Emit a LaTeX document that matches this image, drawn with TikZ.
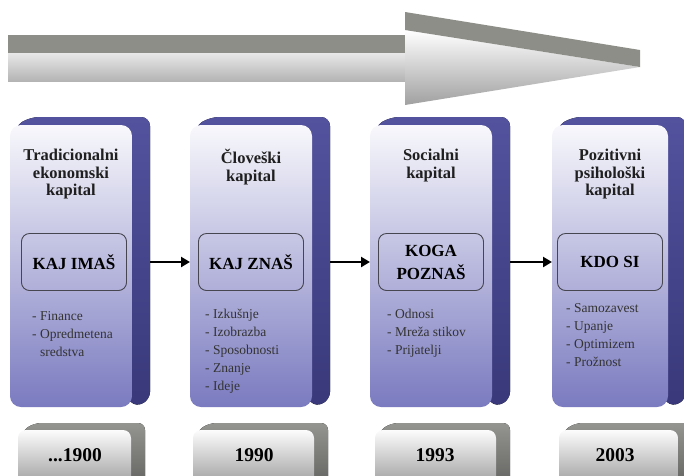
\documentclass[tikz,border=0pt]{standalone}
\usepackage{fontspec}
\setmainfont{Liberation Serif}
\newfontfamily\timesface{Liberation Serif}
\usetikzlibrary{arrows.meta,calc,backgrounds}

\definecolor{faceT}{RGB}{248,248,252}
\definecolor{faceM}{RGB}{196,196,228}
\definecolor{faceB}{RGB}{122,122,192}
\definecolor{slabT}{RGB}{82,82,158}
\definecolor{slabB}{RGB}{56,56,122}
\definecolor{keyline}{RGB}{70,70,80}
\definecolor{yearT}{RGB}{252,252,252}
\definecolor{yearM}{RGB}{222,222,222}
\definecolor{yearB}{RGB}{150,150,150}
\definecolor{yslabT}{RGB}{148,148,144}
\definecolor{yslabB}{RGB}{96,96,94}
\definecolor{band}{RGB}{142,142,136}
\definecolor{shaftT}{RGB}{232,232,232}
\definecolor{shaftB}{RGB}{180,180,180}
\definecolor{headB}{RGB}{160,160,160}

\tikzset{
  front/.style={rounded corners=11pt, top color=faceT, middle color=faceM,
    bottom color=faceB, draw=none, inner sep=0pt, outer sep=0pt,
    minimum height=282pt},
  slabfill/.style={rounded corners=9pt, top color=slabT, bottom color=slabB},
  yfront/.style={rounded corners=8pt, top color=yearT, middle color=yearM,
    bottom color=yearB, draw=none, inner sep=0pt, outer sep=0pt,
    minimum height=60pt},
  yslab/.style={rounded corners=7pt, top color=yslabT, bottom color=yslabB},
  title/.style={font=\timesface\fontsize{16.5}{17.5}\selectfont\bfseries,
    align=center, anchor=north, inner sep=0pt, text=black!88},
  keybox/.style={draw=keyline, line width=0.9pt, rounded corners=8pt,
    minimum width=105pt, minimum height=57pt, inner sep=0pt,
    font=\timesface\fontsize{17}{23}\selectfont\bfseries, align=center},
  items/.style={font=\timesface\fontsize{13.5}{18}\selectfont, align=left,
    anchor=north west, inner sep=0pt, text=black!80},
  flow/.style={line width=2.4pt, -{Triangle[length=9pt,width=10pt]}},
  yeartext/.style={font=\timesface\fontsize{19.5}{22}\selectfont\bfseries,
    inner sep=0pt},
}

\begin{document}
\begin{tikzpicture}[x=1pt,y=-1pt]
\useasboundingbox (0,0) rectangle (684,475);
\clip (0,0) rectangle (684,475);

% timeline arrow across the top
\shade[top color=shaftT, bottom color=shaftB] (8,53) rectangle (405,81);
\fill[band] (8,35) rectangle (405,53);
\shade[top color=white, bottom color=headB] (405,30) -- (640,67) -- (405,105) -- cycle;
\fill[band] (405,12) -- (640,50) -- (640,67) -- (405,30) -- cycle;

% capital columns: shaded front faces, with the dark slab behind each
\foreach \n/\cx/\w in {1/71/122, 2/251/122, 3/431/122, 4/610/116}{
  \node[front, minimum width=\w pt] (b\n) at (\cx,266) {};
}
\begin{scope}[on background layer]
\foreach \n in {1,2,3,4}{
  \fill[slabfill] ($(b\n.north west)+(4,2)$) -- ($(b\n.north west)+(20,-8)$)
    -- ($(b\n.north east)+(18,-8)$) -- ($(b\n.south east)+(18,-6)$)
    -- ($(b\n.south east)+(0,0)$) -- cycle;
}
\end{scope}

% titles
\node[title] (t1) at (71,149) {Tradicionalni\\ekonomski\\kapital};
\node[title] (t2) at (251,149) {Človeški\\kapital};
\node[title] (t3) at (431,149) {Socialni\\kapital};
\node[title] (t4) at (610,149) {Pozitivni\\psihološki\\kapital};

% key questions
\node[keybox] (k1) at (74,262) {KAJ IMAŠ};
\node[keybox] (k2) at (251,262) {KAJ ZNAŠ};
\node[keybox] (k3) at (431,262) {KOGA\\POZNAŠ};
\node[keybox] (k4) at (610,262) {KDO SI};

% item lists
\node[items] (l1) at (32,311) {- Finance\\- Opredmetena\\\hphantom{- }sredstva};
\node[items] (l2) at (205,309) {- Izkušnje\\- Izobrazba\\- Sposobnosti\\- Znanje\\- Ideje};
\node[items] (l3) at (387,309) {- Odnosi\\- Mreža stikov\\- Prijatelji};
\node[items] (l4) at (566,303) {- Samozavest\\- Upanje\\- Optimizem\\- Prožnost};

% connectors between columns
\foreach \a/\b in {1/2, 2/3, 3/4}{
  \coordinate (s\a) at ($(b\a.east)+(18,-4)$);
  \draw[flow] (s\a) -- (s\a -| b\b.west);
}

% year tabs
\foreach \n/\cx/\w in {1/74.5/113, 2/253.5/121, 3/435.5/121, 4/618.5/119}{
  \node[yfront, minimum width=\w pt] (y\n) at (\cx,460) {};
}
\begin{scope}[on background layer]
\foreach \n in {1,2,3,4}{
  \fill[yslab] ($(y\n.north west)+(3,2)$) -- ($(y\n.north west)+(16,-7)$)
    -- ($(y\n.north east)+(14,-7)$) -- ($(y\n.south east)+(14,-6)$)
    -- ($(y\n.south east)+(0,0)$) -- cycle;
}
\end{scope}
\node[yeartext] (d1) at (75,455) {...1900};
\node[yeartext] (d2) at (254,455) {1990};
\node[yeartext] (d3) at (435,455) {1993};
\node[yeartext] (d4) at (615,455) {2003};
\end{tikzpicture}
\end{document}
